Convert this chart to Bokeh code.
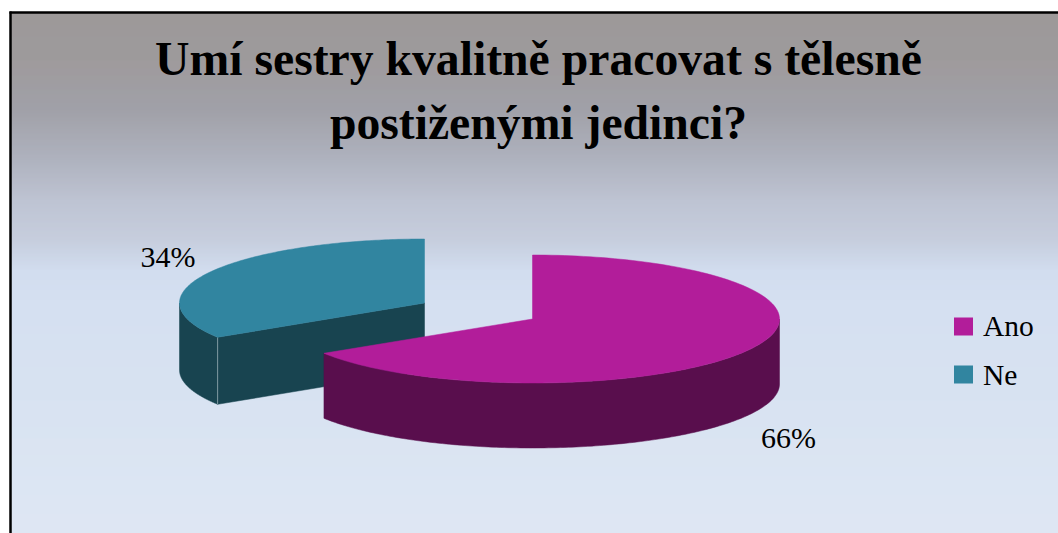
import numpy as np
from bokeh.core.properties import value
from bokeh.embed import file_html
from bokeh.models import Range1d
from bokeh.plotting import figure
from bokeh.resources import INLINE

# Survey answers
categories = ["Ano", "Ne"]
shares = [66, 34]
title_lines = ["Umí sestry kvalitně pracovat s tělesně", "postiženými jedinci?"]

top_colors = {"Ano": "#b21d9a", "Ne": "#3185a0"}
side_colors = {"Ano": "#590e4d", "Ne": "#184450"}

SERIF = value("Liberation Serif")

p = figure(width=1058, height=533, output_backend="svg", toolbar_location=None,
           x_range=Range1d(0, 1058), y_range=Range1d(533, 0),
           x_axis_type=None, y_axis_type=None, min_border=0, outline_line_color=None,
           background_fill_color="white", border_fill_color="white")
p.grid.visible = False

# Vertical wash behind the chart, painted one pixel row at a time
stops_y = [12, 60, 110, 160, 200, 240, 270, 300, 400, 533]
stops_rgb = np.array([
    [151, 146, 146], [152, 148, 150], [155, 155, 163], [170, 174, 187], [186, 192, 208],
    [195, 203, 220], [207, 219, 238], [210, 222, 240], [214, 225, 241], [221, 230, 243],
])
rows = np.arange(12, 533)
row_colors = ["#%02x%02x%02x" % tuple(int(np.interp(r, stops_y, stops_rgb[:, i])) for i in range(3))
              for r in rows]
p.quad(left=10, right=1058, top=rows, bottom=rows + 1, fill_color=row_colors, line_color=row_colors, line_width=0.5)

# Frame along the top and left
p.segment(x0=[9, 10], y0=[12, 11], x1=[1058, 10], y1=[12, 533], line_color="black", line_width=2.5)


def rim(theta0, theta1, cx, cy, a, b, n=160):
    """Outer edge of a tilted disc; angles run clockwise from 12 o'clock."""
    t = np.linspace(theta0, theta1, n)
    return cx + a * np.sin(t), cy - b * np.cos(t)


fractions = np.array(shares) / sum(shares)
edges = np.concatenate([[0], np.cumsum(fractions)]) * 2 * np.pi

# Each slice is pulled apart from the other, so it has its own centre
centers = {"Ano": (532, 318.5), "Ne": (424, 302.5)}
radii = {"Ano": (247, 64), "Ne": (245, 64)}
depth = {"Ano": 65, "Ne": 67}

# The far slice goes first so the near one overlaps it
for i in [1, 0]:
    name = categories[i]
    cx, cy = centers[name]
    a, b = radii[name]
    d = depth[name]
    t0, t1 = edges[i], edges[i + 1]

    # Outer wall: only the part of the rim facing the viewer
    s0, s1 = max(t0, np.pi / 2), min(t1, 3 * np.pi / 2)
    wx, wy = rim(s0, s1, cx, cy, a, b)
    p.patch(np.concatenate([wx, wx[::-1]]), np.concatenate([wy, wy[::-1] + d]),
            fill_color=side_colors[name], line_color=side_colors[name], line_width=0.5)

    # Exposed cut face of the slice whose start edge turns toward the viewer
    if np.pi / 2 < t0 < 3 * np.pi / 2:
        ex, ey = rim(t0, t0, cx, cy, a, b, n=1)
        p.patch([cx, ex[0], ex[0], cx], [cy, ey[0], ey[0] + d, cy + d],
                fill_color=side_colors[name], line_color=side_colors[name], line_width=0.5)
        p.line([ex[0], ex[0]], [ey[0], ey[0] + d], line_color="#7f9aa2", line_width=1)

    # Top face
    tx, ty = rim(t0, t1, cx, cy, a, b)
    p.patch(np.concatenate([[cx], tx]), np.concatenate([[cy], ty]),
            fill_color=top_colors[name], line_color=top_colors[name], line_width=0.5)

# Title
p.text(x=[538, 538], y=[58, 122], text=title_lines, text_font=SERIF, text_font_style="bold",
       text_font_size="47.7px", text_color="black", text_align="center", text_baseline="alphabetic")

# Percentage labels
p.text(x=[788, 167.5], y=[437, 256], text=[f"{v}%" for v in shares], text_font=SERIF,
       text_font_size="30px", text_color="black", text_align="center", text_baseline="alphabetic")

# Legend
legend_y = [326, 374]
p.rect(x=[963, 963], y=legend_y, width=19, height=18,
       fill_color=[top_colors[c] for c in categories], line_color=None)
p.text(x=[982.5, 982.5], y=[325, 374], text=categories, text_font=SERIF, text_font_size="29.5px",
       text_color="black", text_align="left", text_baseline="alphabetic")

open("out.html", "w").write(file_html(p, INLINE))
